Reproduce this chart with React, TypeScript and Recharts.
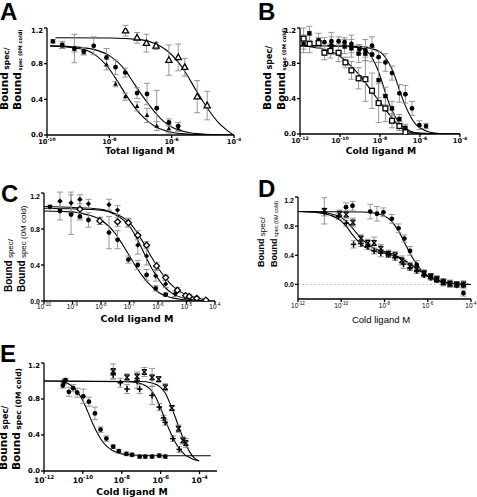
import React from "react";
import {
  ComposedChart,
  Scatter,
  Line,
  XAxis,
  YAxis,
  ErrorBar,
  ReferenceLine,
} from "recharts";

// x values are log10 of the molar concentration
type Pt = [number, number, number];
type CPt = [number, number];

// ---- Panel A ----
const A_CIRCLE: Pt[] = [
  [-9.81, 1.05, 0.02], [-9.51, 1.01, 0.04], [-9.12, 0.97, 0.16], [-8.82, 0.94, 0.04],
  [-8.5, 1.0, 0.1], [-8.09, 0.87, 0.1], [-7.8, 0.76, 0.08], [-7.49, 0.7, 0.05],
  [-7.11, 0.47, 0.06], [-6.79, 0.46, 0.12], [-6.48, 0.3, 0.2], [-6.09, 0.14, 0.04],
  [-5.79, 0.1, 0.04],
];
const A_TRI: Pt[] = [
  [-9.51, 1.0, 0.03], [-9.12, 0.96, 0.03], [-8.82, 0.93, 0.03], [-8.09, 0.79, 0.06],
  [-7.8, 0.57, 0.03], [-7.49, 0.43, 0.04], [-7.11, 0.32, 0.05], [-6.79, 0.22, 0.08],
  [-6.48, 0.1, 0.05], [-6.09, 0.07, 0.05], [-5.79, 0.07, 0.03],
];
const A_TRI_OPEN: Pt[] = [
  [-7.48, 1.17, 0.06], [-7.11, 1.09, 0.06], [-6.81, 1.03, 0.1], [-6.5, 1.0, 0.04],
  [-6.09, 0.84, 0.17], [-5.79, 0.87, 0.15], [-5.58, 0.76, 0.1], [-5.18, 0.43, 0.18],
  [-4.86, 0.33, 0.16],
];
const A_FIT_CIRCLE: CPt[] = [
  [-9.9, 1.0], [-9, 0.985], [-8.5, 0.96], [-8, 0.89], [-7.5, 0.73], [-7.25, 0.6],
  [-7, 0.47], [-6.75, 0.35], [-6.5, 0.24], [-6.25, 0.15], [-6, 0.09], [-5.5, 0.03],
  [-5, 0.01], [-4.5, 0.003], [-4, 0],
];
const A_FIT_TRI: CPt[] = [
  [-9.9, 1.0], [-9, 0.97], [-8.5, 0.91], [-8, 0.74], [-7.75, 0.61], [-7.5, 0.47],
  [-7.25, 0.34], [-7, 0.23], [-6.75, 0.15], [-6.5, 0.09], [-6, 0.03], [-5.5, 0.01],
  [-5, 0.003], [-4, 0],
];
const A_FIT_OPEN: CPt[] = [
  [-9.73, 1.09], [-8, 1.088], [-7, 1.07], [-6.5, 1.02], [-6, 0.9], [-5.75, 0.8],
  [-5.5, 0.67], [-5.25, 0.52], [-5, 0.38], [-4.75, 0.25], [-4.5, 0.14], [-4.25, 0.06],
  [-4.02, 0],
];

// ---- Panel B ----
const B_CIRCLE: Pt[] = [
  [-10.78, 1.04, 0.05], [-10.43, 1.05, 0.1], [-10.07, 1.05, 0.05], [-9.77, 1.04, 0.05],
  [-9.43, 1.02, 0.1], [-9.03, 0.96, 0.05], [-8.73, 0.95, 0.12], [-8.4, 1.0, 0.1],
  [-8.07, 0.87, 0.06], [-7.73, 0.81, 0.1], [-7.4, 0.69, 0.08], [-7.03, 0.46, 0.1],
  [-6.73, 0.45, 0.1], [-6.4, 0.29, 0.08], [-6.03, 0.1, 0.05], [-5.7, 0.09, 0.03],
];
const B_SQ: Pt[] = [
  [-11.82, 1.02, 0.1], [-11.53, 1.14, 0.08], [-11.07, 1.06, 0.08], [-10.43, 1.0, 0.1],
  [-9.77, 0.99, 0.08], [-9.43, 0.97, 0.1], [-9.07, 0.91, 0.1], [-8.73, 0.91, 0.08],
  [-8.4, 0.9, 0.08], [-8.07, 0.61, 0.2], [-7.73, 0.43, 0.1], [-7.4, 0.29, 0.08],
  [-7.03, 0.17, 0.05], [-6.73, 0.07, 0.04],
];
const B_SQ_OPEN: Pt[] = [
  [-11.82, 1.08, 0.12], [-11.52, 1.02, 0.1], [-11.07, 1.03, 0.06], [-10.78, 0.92, 0.08],
  [-10.48, 0.94, 0.08], [-10.07, 0.92, 0.1], [-9.73, 0.81, 0.06], [-9.43, 0.72, 0.1],
  [-9.07, 0.63, 0.12], [-8.73, 0.62, 0.25], [-8.4, 0.49, 0.2], [-8.07, 0.35, 0.22],
  [-7.73, 0.29, 0.15], [-7.4, 0.15, 0.08], [-7.03, 0.09, 0.05], [-6.73, 0.02, 0.02],
];
const B_FIT_CIRCLE: CPt[] = [
  [-12, 1.0], [-10, 0.998], [-9, 0.99], [-8.5, 0.97], [-8, 0.93], [-7.5, 0.78],
  [-7.25, 0.65], [-7, 0.48], [-6.75, 0.33], [-6.5, 0.21], [-6.25, 0.12], [-6, 0.07],
  [-5.5, 0.02], [-5, 0.005], [-4, 0],
];
const B_FIT_SQ: CPt[] = [
  [-12, 1.0], [-10, 0.995], [-9, 0.975], [-8.5, 0.9], [-8.25, 0.8], [-8, 0.66],
  [-7.75, 0.48], [-7.5, 0.32], [-7.25, 0.2], [-7, 0.11], [-6.5, 0.035], [-6, 0.01],
  [-5, 0.001], [-4, 0],
];
const B_FIT_OPEN: CPt[] = [
  [-12, 1.0], [-11, 0.97], [-10.5, 0.94], [-10, 0.88], [-9.5, 0.78], [-9, 0.66],
  [-8.5, 0.51], [-8, 0.36], [-7.5, 0.21], [-7, 0.08], [-6.5, 0.02], [-6, 0.005],
  [-5, 0],
];

// ---- Panel C ----
const C_CIRCLE: Pt[] = [
  [-9.79, 1.045, 0.02], [-9.44, 1.0, 0.1], [-9.05, 0.96, 0.22], [-8.74, 0.94, 0.04],
  [-8.44, 0.9, 0.08], [-8.04, 0.89, 0.04], [-7.72, 0.76, 0.18], [-7.42, 0.68, 0.1],
  [-7.04, 0.46, 0.04], [-6.71, 0.4, 0.05], [-6.4, 0.29, 0.06], [-6.08, 0.14, 0.03],
  [-5.73, 0.07, 0.02],
];
const C_DIA: Pt[] = [
  [-9.44, 1.11, 0.1], [-9.05, 1.09, 0.12], [-8.74, 1.13, 0.05], [-8.44, 1.08, 0.05],
  [-7.72, 1.07, 0.06], [-7.42, 1.01, 0.05], [-7.04, 0.87, 0.05], [-6.71, 0.62, 0.1],
  [-6.4, 0.5, 0.1], [-6.08, 0.28, 0.06], [-5.73, 0.19, 0.04], [-5.4, 0.08, 0.03],
];
const C_DIA_OPEN: Pt[] = [
  [-8.74, 1.02, 0.1], [-8.04, 0.89, 0.04], [-7.42, 0.88, 0.05], [-7.04, 0.87, 0.04],
  [-6.71, 0.73, 0.05], [-6.4, 0.62, 0.04], [-6.05, 0.39, 0.04], [-5.73, 0.26, 0.03],
  [-5.32, 0.12, 0.03], [-5.03, 0.06, 0.02], [-4.9, 0.05, 0.02], [-4.64, 0.03, 0.01],
  [-4.32, 0.01, 0.01],
];
const C_FIT_CIRCLE: CPt[] = [
  [-10, 1.0], [-9, 0.99], [-8.5, 0.96], [-8, 0.9], [-7.5, 0.75], [-7.25, 0.63],
  [-7, 0.5], [-6.75, 0.37], [-6.5, 0.26], [-6.25, 0.17], [-6, 0.1], [-5.5, 0.035],
  [-5, 0.01], [-4.8, 0],
];
const C_FIT_DIA: CPt[] = [
  [-10, 1.03], [-8, 1.01], [-7.5, 0.96], [-7, 0.83], [-6.75, 0.7], [-6.5, 0.54],
  [-6.25, 0.38], [-6, 0.25], [-5.75, 0.15], [-5.5, 0.085], [-5, 0.025], [-4.5, 0.005],
  [-4.3, 0],
];
const C_FIT_OPEN: CPt[] = [
  [-10, 1.05], [-8, 1.02], [-7.5, 0.97], [-7, 0.87], [-6.75, 0.77], [-6.5, 0.64],
  [-6.25, 0.5], [-6, 0.37], [-5.75, 0.26], [-5.5, 0.17], [-5.25, 0.11], [-5, 0.07],
  [-4.5, 0.025], [-4.3, 0.015],
];

// ---- Panel D ----
const D_CIRCLE: Pt[] = [
  [-9.78, 1.06, 0.06], [-9.48, 1.08, 0.06], [-8.66, 1.0, 0.1], [-8.35, 0.97, 0.1],
  [-8.05, 0.99, 0.06], [-7.66, 0.9, 0.06], [-7.35, 0.77, 0.06], [-7.08, 0.63, 0.05],
  [-6.82, 0.46, 0.06], [-6.51, 0.27, 0.06], [-6.17, 0.16, 0.04], [-5.86, 0.11, 0.04],
  [-5.58, 0.08, 0.04], [-5.28, 0.03, 0.05], [-4.97, 0.01, 0.04], [-4.66, 0.0, 0.03],
  [-4.35, -0.12, 0.04],
];
const D_STAR: Pt[] = [
  [-10.78, 1.01, 0.18], [-10.08, 0.97, 0.05], [-9.77, 0.96, 0.05], [-9.46, 0.85, 0.06],
  [-9.09, 0.63, 0.05], [-8.77, 0.57, 0.05], [-8.48, 0.57, 0.08], [-8.17, 0.49, 0.06],
  [-7.82, 0.42, 0.05], [-7.51, 0.4, 0.05], [-7.2, 0.33, 0.06], [-6.82, 0.25, 0.05],
  [-6.51, 0.21, 0.04], [-6.17, 0.15, 0.04], [-5.86, 0.11, 0.03], [-5.58, 0.07, 0.04],
  [-5.28, 0.03, 0.04], [-4.97, 0.01, 0.05], [-4.66, 0.0, 0.04], [-4.35, 0.0, 0.05],
];
const D_PLUS: Pt[] = [
  [-10.78, 0.99, 0.05], [-10.12, 0.93, 0.04], [-9.77, 0.84, 0.04], [-9.43, 0.55, 0.05],
  [-9.09, 0.56, 0.04], [-8.77, 0.52, 0.04], [-8.48, 0.46, 0.04], [-8.17, 0.43, 0.05],
  [-7.82, 0.41, 0.04], [-7.51, 0.37, 0.04], [-7.12, 0.28, 0.06], [-6.82, 0.23, 0.04],
  [-6.51, 0.19, 0.04], [-6.17, 0.13, 0.03], [-5.86, 0.09, 0.03], [-5.58, 0.06, 0.03],
  [-5.28, 0.04, 0.03], [-4.97, 0.01, 0.03], [-4.66, -0.01, 0.02], [-4.35, -0.01, 0.03],
];
const D_FIT_CIRCLE: CPt[] = [
  [-12, 1.0], [-9, 0.995], [-8.5, 0.98], [-8, 0.94], [-7.75, 0.89], [-7.5, 0.8],
  [-7.25, 0.68], [-7, 0.53], [-6.75, 0.39], [-6.5, 0.27], [-6.25, 0.18], [-6, 0.11],
  [-5.5, 0.04], [-5, 0.015], [-4.5, 0.005], [-4, 0],
];
const D_FIT_STAR: CPt[] = [
  [-12, 1.0], [-11, 0.99], [-10.5, 0.97], [-10, 0.92], [-9.75, 0.86], [-9.5, 0.78],
  [-9.25, 0.69], [-9, 0.61], [-8.75, 0.55], [-8.5, 0.5], [-8.25, 0.47], [-8, 0.45],
  [-7.5, 0.4], [-7, 0.32], [-6.5, 0.22], [-6, 0.12], [-5.5, 0.05], [-5, 0.02],
  [-4.5, 0.005], [-4, 0],
];
const D_FIT_PLUS: CPt[] = [
  [-12, 1.0], [-11, 0.98], [-10.5, 0.95], [-10, 0.87], [-9.75, 0.79], [-9.5, 0.69],
  [-9.25, 0.6], [-9, 0.53], [-8.75, 0.49], [-8.5, 0.46], [-8, 0.43], [-7.5, 0.39],
  [-7, 0.31], [-6.5, 0.21], [-6, 0.11], [-5.5, 0.05], [-5, 0.02], [-4.5, 0.005],
  [-4, 0],
];

// ---- Panel E ----
const E_CIRCLE: Pt[] = [
  [-11.03, 0.95, 0.03], [-10.97, 0.99, 0.03], [-10.89, 1.01, 0.02], [-10.72, 0.88, 0.05],
  [-10.5, 0.92, 0.04], [-10.29, 0.87, 0.05], [-9.98, 0.83, 0.08], [-9.69, 0.77, 0.05],
  [-9.38, 0.64, 0.07], [-9.09, 0.46, 0.03], [-8.79, 0.36, 0.03], [-8.44, 0.27, 0.02],
  [-8.15, 0.22, 0.02], [-7.76, 0.19, 0.02], [-7.47, 0.18, 0.02], [-7.08, 0.16, 0.02],
  [-6.79, 0.16, 0.02], [-6.44, 0.16, 0.02], [-6.07, 0.17, 0.02], [-5.76, 0.16, 0.02],
];
const E_STAR: Pt[] = [
  [-8.44, 1.11, 0.08], [-7.73, 1.04, 0.04], [-7.21, 1.05, 0.05], [-6.84, 1.1, 0.05],
  [-6.44, 1.04, 0.1], [-6.1, 1.02, 0.03], [-5.76, 0.93, 0.04], [-5.42, 0.7, 0.03],
  [-5.08, 0.47, 0.04], [-4.85, 0.34, 0.04], [-4.7, 0.31, 0.05],
];
const E_PLUS: Pt[] = [
  [-8.44, 1.07, 0.05], [-8.07, 0.98, 0.05], [-7.73, 0.91, 0.05], [-7.21, 1.0, 0.08],
  [-7.08, 0.91, 0.05], [-6.44, 0.84, 0.1], [-6.07, 0.71, 0.04], [-5.85, 0.59, 0.03],
  [-5.76, 0.54, 0.03], [-5.37, 0.36, 0.03], [-5.04, 0.24, 0.03],
];
const E_FIT_CIRCLE: CPt[] = [
  [-11.06, 1.0], [-10.75, 0.97], [-10.5, 0.93], [-10.25, 0.87], [-10, 0.78],
  [-9.75, 0.66], [-9.5, 0.53], [-9.25, 0.42], [-9, 0.33], [-8.75, 0.27], [-8.5, 0.23],
  [-8, 0.19], [-7.5, 0.178], [-7, 0.172], [-6, 0.17], [-3.42, 0.17],
];
const E_FIT_STAR: CPt[] = [
  [-12, 1.0], [-7, 0.995], [-6.5, 0.98], [-6, 0.93], [-5.75, 0.86], [-5.5, 0.74],
  [-5.25, 0.6], [-5, 0.45], [-4.75, 0.32], [-4.5, 0.21], [-4.25, 0.14], [-4.02, 0.11],
];
const E_FIT_PLUS: CPt[] = [
  [-12, 1.0], [-7.5, 0.99], [-7, 0.97], [-6.5, 0.9], [-6.25, 0.82], [-6, 0.7],
  [-5.75, 0.56], [-5.5, 0.43], [-5.25, 0.32], [-5, 0.24], [-4.75, 0.18], [-4.5, 0.15],
  [-4.25, 0.125], [-4.02, 0.115],
];

const Y_TICKS = [0, 0.4, 0.8, 1.2];

const FONT_V = "'DejaVu Sans', Verdana, sans-serif";
const FONT_A = "'Liberation Sans', Arial, sans-serif";
const ERR = "#8c8c8c";

const pts = (rows: Pt[]) => rows.map(([x, y, e]) => ({ x, y, e }));
const crv = (rows: CPt[]) => rows.map(([x, y]) => ({ x, y }));

function marker(kind: string) {
  return (p: any) => {
    const { cx, cy } = p;
    if (!Number.isFinite(cx) || !Number.isFinite(cy)) return <g />;
    const s = 2.6;
    switch (kind) {
      case "dot":
        return <circle cx={cx} cy={cy} r={2.4} fill="#000" />;
      case "tri":
        return <polygon points={`${cx},${cy - 2.6} ${cx - 2.3},${cy + 1.6} ${cx + 2.3},${cy + 1.6}`} fill="#000" />;
      case "triOpen":
        return (
          <polygon
            points={`${cx},${cy - 3.4} ${cx - 3.1},${cy + 2.2} ${cx + 3.1},${cy + 2.2}`}
            fill="#fff" stroke="#000" strokeWidth={1.3}
          />
        );
      case "sq":
        return <rect x={cx - 2.2} y={cy - 2.2} width={4.4} height={4.4} fill="#000" />;
      case "sqOpen":
        return <rect x={cx - 2.4} y={cy - 2.4} width={4.8} height={4.8} fill="#fff" stroke="#000" strokeWidth={1.3} />;
      case "dia":
        return <polygon points={`${cx},${cy - s} ${cx + s},${cy} ${cx},${cy + s} ${cx - s},${cy}`} fill="#000" />;
      case "diaOpen":
        return (
          <polygon
            points={`${cx},${cy - 3} ${cx + 3},${cy} ${cx},${cy + 3} ${cx - 3},${cy}`}
            fill="#fff" stroke="#000" strokeWidth={1.3}
          />
        );
      case "star":
        return (
          <g stroke="#000" strokeWidth={1.2}>
            <line x1={cx - 2.4} y1={cy - 2.4} x2={cx + 2.4} y2={cy + 2.4} />
            <line x1={cx + 2.4} y1={cy - 2.4} x2={cx - 2.4} y2={cy + 2.4} />
            <line x1={cx - 2.4} y1={cy - 2.4} x2={cx + 2.4} y2={cy - 2.4} />
            <line x1={cx - 2.4} y1={cy + 2.4} x2={cx + 2.4} y2={cy + 2.4} />
          </g>
        );
      case "plus":
      default:
        return (
          <g stroke="#000" strokeWidth={1.5}>
            <line x1={cx} y1={cy - 3} x2={cx} y2={cy + 3} />
            <line x1={cx - 2.8} y1={cy} x2={cx + 2.8} y2={cy} />
          </g>
        );
    }
  };
}

interface TickStyle {
  font: string;
  size: number;
  weight: string;
  off: number;
}

function XTick(props: any) {
  const { x, y, payload, st } = props;
  return (
    <text x={x} y={y + st.off} textAnchor="middle" fontFamily={st.font} fontSize={st.size} fontWeight={st.weight} fill="#000">
      10
      <tspan dy={-st.size * 0.45} fontSize={st.size * 0.7}>
        {String(payload.value)}
      </tspan>
    </text>
  );
}

function YTick(props: any) {
  const { x, y, payload, st } = props;
  return (
    <text x={x} y={y + st.size * 0.36} textAnchor="end" fontFamily={st.font} fontSize={st.size} fontWeight={st.weight} fill="#000">
      {Number(payload.value).toFixed(1)}
    </text>
  );
}

interface Series {
  rows: Pt[];
  kind: string;
}

interface PanelProps {
  left: number;
  top: number;
  w: number;
  h: number;
  xDomain: [number, number];
  xTicks: number[];
  yDomain: [number, number];
  series: Series[];
  curves: CPt[][];
  xst: TickStyle;
  yst: TickStyle;
  zeroLine?: boolean;
}

const YW = 30;
const MT = 6;
const MR = 14;
const XH = 20;

function Panel(p: PanelProps) {
  return (
    <div style={{ position: "absolute", left: p.left - YW, top: p.top - MT }}>
      <ComposedChart
        width={p.w + YW + MR}
        height={p.h + MT + XH}
        margin={{ top: MT, right: MR, left: 0, bottom: 0 }}
      >
        <XAxis
          type="number"
          dataKey="x"
          domain={p.xDomain}
          ticks={p.xTicks}
          allowDataOverflow
          height={XH}
          stroke="#000"
          strokeWidth={1.3}
          tickSize={3}
          tickMargin={0}
          tick={(t: any) => <XTick {...t} st={p.xst} />}
        />
        <YAxis
          type="number"
          dataKey="y"
          domain={p.yDomain}
          ticks={Y_TICKS}
          allowDataOverflow
          width={YW}
          stroke="#000"
          strokeWidth={1.3}
          tickSize={3}
          tickMargin={1}
          tick={(t: any) => <YTick {...t} st={p.yst} />}
        />
        {p.zeroLine && (
          <ReferenceLine y={0} stroke="#b0b0b0" strokeDasharray="2 2" strokeWidth={0.8} />
        )}
        {p.curves.map((c, i) => (
          <Line
            key={`c${i}`}
            data={crv(c)}
            dataKey="y"
            type="monotone"
            dot={false}
            activeDot={false}
            stroke="#000"
            strokeWidth={1.1}
            isAnimationActive={false}
          />
        ))}
        {p.series.map((s, i) => (
          <Scatter
            key={`s${i}`}
            data={pts(s.rows)}
            shape={marker(s.kind)}
            isAnimationActive={false}
          >
            <ErrorBar dataKey="e" direction="y" width={3} stroke={ERR} strokeWidth={0.9} />
          </Scatter>
        ))}
      </ComposedChart>
    </div>
  );
}

function YLabel(props: {
  x1: number; x2: number; y: number; font: string; big: number; s1: number; s2: number; subWeight: string;
}) {
  const { x1, x2, y, font, big, s1, s2, subWeight } = props;
  return (
    <g fontFamily={font} fontWeight="bold" fill="#000">
      <text transform={`translate(${x1},${y}) rotate(-90)`} fontSize={big}>
        Bound<tspan fontSize={s1} fontWeight={subWeight} dy={1}> spec/</tspan>
      </text>
      <text transform={`translate(${x2},${y}) rotate(-90)`} fontSize={big}>
        Bound<tspan fontSize={s2} fontWeight={subWeight} dy={1}> spec (0M cold)</tspan>
      </text>
    </g>
  );
}

const AB_XTICK: TickStyle = { font: FONT_V, size: 6.6, weight: "bold", off: 5.8 };
const V_YTICK: TickStyle = { font: FONT_V, size: 6.8, weight: "bold", off: 0 };
const E_XTICK: TickStyle = { font: FONT_V, size: 7.6, weight: "bold", off: 8.5 };
const C_XTICK: TickStyle = { font: FONT_A, size: 6.5, weight: "normal", off: 4.6 };
const D_XTICK: TickStyle = { font: FONT_A, size: 6.5, weight: "normal", off: 5.6 };
const A_YTICK: TickStyle = { font: FONT_A, size: 7, weight: "bold", off: 0 };

export default function App() {
  return (
    <div style={{ position: "absolute", left: 0, top: 0, width: 477, height: 497, background: "#fff" }}>
      <Panel
        left={47} top={28} w={187} h={107}
        xDomain={[-10, -4]} xTicks={[-10, -8, -6, -4]} yDomain={[0, 1.2]}
        curves={[A_FIT_OPEN, A_FIT_CIRCLE, A_FIT_TRI]}
        series={[
          { rows: A_TRI_OPEN, kind: "triOpen" },
          { rows: A_CIRCLE, kind: "dot" },
          { rows: A_TRI, kind: "tri" },
        ]}
        xst={AB_XTICK} yst={V_YTICK}
      />
      <Panel
        left={300} top={28} w={160} h={106}
        xDomain={[-12, -4]} xTicks={[-12, -10, -8, -6, -4]} yDomain={[0, 1.2]}
        curves={[B_FIT_CIRCLE, B_FIT_SQ, B_FIT_OPEN]}
        series={[
          { rows: B_CIRCLE, kind: "dot" },
          { rows: B_SQ, kind: "sq" },
          { rows: B_SQ_OPEN, kind: "sqOpen" },
        ]}
        xst={AB_XTICK} yst={V_YTICK}
      />
      <Panel
        left={44} top={193} w={171} h={108}
        xDomain={[-10, -4]} xTicks={[-10, -9, -8, -7, -6, -5, -4]} yDomain={[0, 1.2]}
        curves={[C_FIT_CIRCLE, C_FIT_DIA, C_FIT_OPEN]}
        series={[
          { rows: C_CIRCLE, kind: "dot" },
          { rows: C_DIA, kind: "dia" },
          { rows: C_DIA_OPEN, kind: "diaOpen" },
        ]}
        xst={C_XTICK} yst={A_YTICK}
      />
      <Panel
        left={298} top={197} w={173} h={102}
        xDomain={[-12, -4]} xTicks={[-12, -10, -8, -6, -4]} yDomain={[-0.2, 1.2]}
        curves={[D_FIT_CIRCLE, D_FIT_STAR, D_FIT_PLUS]}
        series={[
          { rows: D_CIRCLE, kind: "dot" },
          { rows: D_STAR, kind: "star" },
          { rows: D_PLUS, kind: "plus" },
        ]}
        xst={D_XTICK} yst={A_YTICK}
        zeroLine
      />
      <Panel
        left={44} top={363} w={173} h={108}
        xDomain={[-12, -3.1]} xTicks={[-12, -10, -8, -6, -4]} yDomain={[0, 1.2]}
        curves={[E_FIT_CIRCLE, E_FIT_STAR, E_FIT_PLUS]}
        series={[
          { rows: E_CIRCLE, kind: "dot" },
          { rows: E_STAR, kind: "star" },
          { rows: E_PLUS, kind: "plus" },
        ]}
        xst={E_XTICK} yst={V_YTICK}
      />

      <svg width={477} height={497} style={{ position: "absolute", left: 0, top: 0, pointerEvents: "none" }}>
        <g fontFamily={FONT_A} fontWeight="bold" fontSize={24} fill="#000">
          <text x={0} y={20}>A</text>
          <text x={258} y={20}>B</text>
          <text x={1} y={202}>C</text>
          <text x={258} y={197}>D</text>
          <text x={0} y={362}>E</text>
        </g>
        <g fontFamily={FONT_V} fontWeight="bold" fill="#000" textAnchor="middle">
          <text x={140} y={153.5} fontSize={8.8}>Total ligand M</text>
          <text x={381} y={153.5} fontSize={9.2}>Cold ligand M</text>
          <text x={137} y={322} fontSize={9.5}>Cold ligand M</text>
          <text x={132} y={495} fontSize={9.3}>Cold ligand M</text>
        </g>
        <text x={381} y={323} fontFamily={FONT_A} fontSize={9.5} textAnchor="middle" fill="#000">
          Cold ligand M
        </text>
        <YLabel x1={8.3} x2={20.7} y={110} font={FONT_V} big={10.5} s1={7.5} s2={5} subWeight="bold" />
        <YLabel x1={271.3} x2={285.3} y={110} font={FONT_V} big={10.5} s1={8} s2={5.2} subWeight="bold" />
        <YLabel x1={11.7} x2={25} y={292} font={FONT_A} big={10} s1={8} s2={8} subWeight="normal" />
        <YLabel x1={263.7} x2={277} y={267} font={FONT_A} big={9} s1={8} s2={5.5} subWeight="normal" />
        <YLabel x1={6.7} x2={20} y={470} font={FONT_V} big={10.5} s1={8} s2={7.5} subWeight="bold" />
      </svg>
    </div>
  );
}
